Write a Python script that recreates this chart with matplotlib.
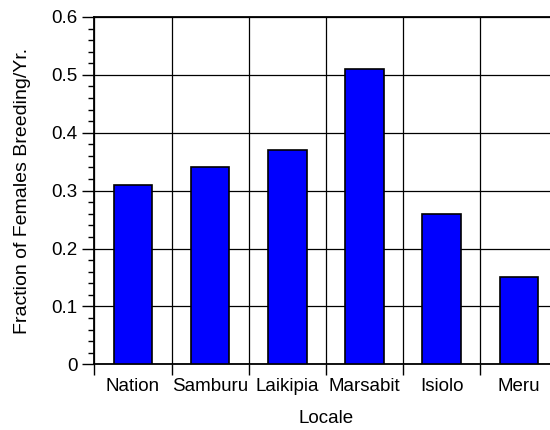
import matplotlib
matplotlib.use("Agg")
import matplotlib.pyplot as plt
from matplotlib.ticker import MultipleLocator, FixedLocator, NullFormatter
import numpy as np

categories = ["Nation", "Samburu", "Laikipia", "Marsabit", "Isiolo", "Meru"]
values = [0.31, 0.34, 0.37, 0.51, 0.26, 0.15]
y_ticks = [0, 0.1, 0.2, 0.3, 0.4, 0.5, 0.6]
y_tick_labels = ["0", "0.1", "0.2", "0.3", "0.4", "0.5", "0.6"]

plt.rcParams['font.family'] = ['Liberation Sans', 'DejaVu Sans']

fig = plt.figure(figsize=(5.5, 4.3), dpi=100)
ax = fig.add_axes([0.1715, 0.1528, 0.842, 0.8077])

x = np.arange(len(categories))
ax.bar(x, values, width=0.5, color="#0000ff", edgecolor="black", linewidth=1.2, zorder=3)

ax.set_xlim(-0.5, len(categories) - 0.5)
ax.set_ylim(0, 0.6)

# x: labels at centers, ticks/grid at boundaries
ax.set_xticks(x)
ax.set_xticklabels(categories, fontsize=13.5)
ax.tick_params(axis='x', which='major', length=0, pad=10)
boundaries = np.arange(len(categories) + 1) - 0.5
ax.xaxis.set_minor_locator(FixedLocator(boundaries))
ax.xaxis.set_minor_formatter(NullFormatter())
ax.tick_params(axis='x', which='minor', length=8, width=1, direction='out')

ax.set_yticks(y_ticks)
ax.set_yticklabels(y_tick_labels, fontsize=13.5)
ax.yaxis.set_minor_locator(MultipleLocator(0.02))
ax.tick_params(axis='y', which='major', length=9, width=1, direction='out', pad=3)
ax.tick_params(axis='y', which='minor', length=4, width=1, direction='out')

for b in boundaries:
    ax.axvline(b, color="black", linewidth=0.9, zorder=1)
for t in y_ticks:
    ax.axhline(t, color="black", linewidth=0.9, zorder=1)

for s in ax.spines.values():
    s.set_linewidth(1.3)
    s.set_color("black")

ax.set_xlabel("Locale", fontsize=13.5, labelpad=11)
ax.set_ylabel("Fraction of Females Breeding/Yr.", fontsize=14, labelpad=15)

fig.savefig("out.png", dpi=100)
